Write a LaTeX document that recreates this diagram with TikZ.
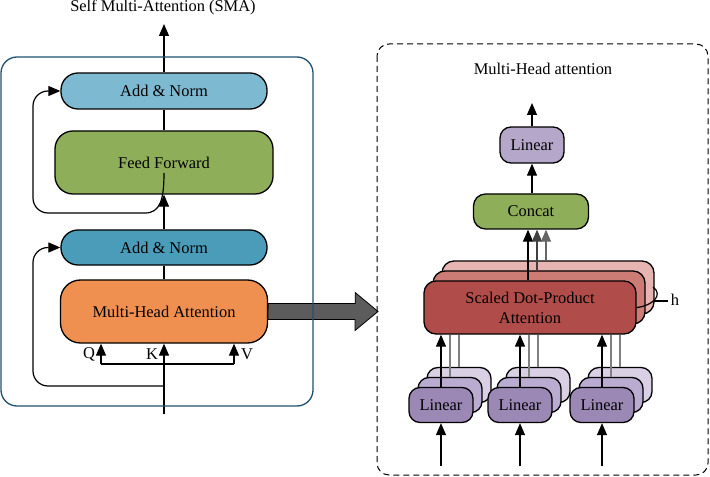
\documentclass[tikz,border=0pt]{standalone}
\usepackage{fontspec}
\setmainfont{Liberation Serif}
\usetikzlibrary{arrows.meta}

\definecolor{normtop}{RGB}{125,185,209}
\definecolor{normlow}{RGB}{74,156,184}
\definecolor{ffgreen}{RGB}{143,174,89}
\definecolor{mhaorange}{RGB}{240,144,80}
\definecolor{framebl}{RGB}{31,80,110}
\definecolor{lintop}{RGB}{181,167,202}
\definecolor{linfront}{RGB}{155,136,181}
\definecolor{linmid}{RGB}{186,171,208}
\definecolor{linback}{RGB}{217,208,228}
\definecolor{sdpfront}{RGB}{176,76,73}
\definecolor{sdpmid}{RGB}{204,123,117}
\definecolor{sdpback}{RGB}{230,181,177}
\definecolor{bigarr}{RGB}{92,92,92}

\begin{document}
\begin{tikzpicture}[x=1bp, y=-1bp, font=\fontsize{16.5}{20}\selectfont,
    box/.style={draw, line width=1.3bp, inner sep=0pt, align=center},
    conn/.style={line width=1.2bp},
    gline/.style={line width=1.2bp, draw=black!50},
    arr/.style={line width=1.2bp, -{Triangle[length=12bp,width=10bp]}}]
    \useasboundingbox (0,0) rectangle (710,477);

    % encoder block (left)
    \node[anchor=base] (sma) at (163,11.5) {Self Multi-Attention (SMA)};
    \node[box, fill=normtop, rounded corners=17bp, minimum width=206bp, minimum height=36bp] (an1) at (164,91) {Add \& Norm};
    \node[box, fill=ffgreen, rounded corners=18bp, minimum width=218bp, minimum height=63bp] (ff) at (164,162.5) {Feed Forward};
    \node[box, fill=normlow, rounded corners=17bp, minimum width=206bp, minimum height=35bp] (an2) at (164,247.5) {Add \& Norm};
    \node[box, fill=mhaorange, rounded corners=20bp, minimum width=207bp, minimum height=63bp] (mha) at (164,311.5) {Multi-Head Attention};

    \coordinate (out) at (164,24);
    \coordinate (in) at (164,414);
    \coordinate (q) at (101,364);
    \coordinate (v) at (234,364);
    \coordinate (res1) at (164,386);
    \coordinate (res2) at (164,173);

    \draw[arr] (an1.north) -- (out);
    \draw[conn] (ff.north) -- (an1.south);
    \draw[arr] (an2.north) -- (ff.south);
    \draw[conn] (mha.north) -- (an2.south);
    \draw[arr] (in) -- (mha.south);
    \draw[conn] (q) -- (v);
    \draw[arr] (q) -- (q |- mha.south);
    \draw[arr] (v) -- (v |- mha.south);
    \node (lq) at (89,354) {Q};
    \node (lk) at (152,354) {K};
    \node (lv) at (247,354) {V};
    \draw[arr, rounded corners=15bp] (res1) -- (33,386) -- (33,247.5) -- (an2.west);
    \draw[arr, rounded corners=15bp] (res2) .. controls (164,200) and (160,213) .. (130,213) -- (33,213) -- (33,91) -- (an1.west);

    % big arrow to the right part
    \draw[line width=0.8bp, fill=bigarr] (mha.east) ++(0,-8) -- ++(87,0) -- ++(0,-11) -- (378,311.5)
        -- (355,330.5) -- ++(0,-11) -- (268,319.5) -- cycle;

    % multi-head attention (right)
    \node[anchor=base] (mht) at (543,75) {Multi-Head attention};
    \node[box, fill=lintop, rounded corners=11bp, minimum width=64bp, minimum height=36bp] (lin) at (532,145) {Linear};
    \node[box, fill=ffgreen, rounded corners=12bp, minimum width=115bp, minimum height=35bp] (cat) at (531,211.5) {Concat};
    \coordinate (mhout) at (532,103);
    \draw[arr] (lin.north) -- (mhout);
    \draw[arr] (lin.south |- cat.north) -- (lin.south);

    \node[box, fill=sdpback, rounded corners=12bp, minimum width=212bp, minimum height=53bp] (sdp3) at (548,287.5) {};
    \node[box, fill=sdpmid, rounded corners=12bp, minimum width=212bp, minimum height=53bp] (sdp2) at (539,297.5) {};
    \node[box, fill=sdpfront, rounded corners=12bp, minimum width=212bp, minimum height=53bp] (sdp1) at (530,307.5) {Scaled Dot-Product\\Attention};

    \draw[arr] ([xshift=-2bp]sdp1.north) -- ([xshift=-2bp]sdp1.north |- cat.south);
    \draw[arr, black!75] ([xshift=-2bp]sdp2.north) -- ([xshift=-2bp]sdp2.north |- cat.south);
    \draw[arr, black!60] ([xshift=-2bp]sdp3.north) -- ([xshift=-2bp]sdp3.north |- cat.south);

    \draw[conn] (sdp1.east) .. controls (652,306) and (664,295) .. (653,287);
    \draw[conn] (654,301) -- (668,301);
    \node (h) at (675,300) {h};

    % linear stacks
    \node[box, fill=linback, rounded corners=11bp, minimum width=64bp, minimum height=35bp] (l1c) at (459,385) {};
    \node[box, fill=linmid, rounded corners=11bp, minimum width=64bp, minimum height=35bp] (l1b) at (450,395) {};
    \node[box, fill=linfront, rounded corners=11bp, minimum width=64bp, minimum height=35bp] (l1a) at (441,405) {Linear};
    \node[box, fill=linback, rounded corners=11bp, minimum width=64bp, minimum height=35bp] (l2c) at (538,385) {};
    \node[box, fill=linmid, rounded corners=11bp, minimum width=64bp, minimum height=35bp] (l2b) at (529,395) {};
    \node[box, fill=linfront, rounded corners=11bp, minimum width=64bp, minimum height=35bp] (l2a) at (520,405) {Linear};
    \node[box, fill=linback, rounded corners=11bp, minimum width=64bp, minimum height=35bp] (l3c) at (620,385) {};
    \node[box, fill=linmid, rounded corners=11bp, minimum width=64bp, minimum height=35bp] (l3b) at (611,395) {};
    \node[box, fill=linfront, rounded corners=11bp, minimum width=64bp, minimum height=35bp] (l3a) at (602,405) {Linear};

    \draw[gline] (l1c.north) -- (l1c.north |- sdp1.south);
    \draw[gline] (l1b.north) -- (l1b.north |- sdp1.south);
    \draw[arr] (l1a.north) -- (l1a.north |- sdp1.south);
    \draw[gline] (l2c.north) -- (l2c.north |- sdp1.south);
    \draw[gline] (l2b.north) -- (l2b.north |- sdp1.south);
    \draw[arr] (l2a.north) -- (l2a.north |- sdp1.south);
    \draw[gline] (l3c.north) -- (l3c.north |- sdp1.south);
    \draw[gline] (l3b.north) -- (l3b.north |- sdp1.south);
    \draw[arr] (l3a.north) -- (l3a.north |- sdp1.south);

    \coordinate (in1) at (441,466);
    \coordinate (in2) at (520,466);
    \coordinate (in3) at (602,466);
    \draw[arr] (in1) -- (l1a.south);
    \draw[arr] (in2) -- (l2a.south);
    \draw[arr] (in3) -- (l3a.south);

    % frames
    \draw[framebl, line width=1.3bp, rounded corners=16bp] (1,57) rectangle (313,406);
    \draw[line width=1bp, dash pattern=on 6bp off 4bp, rounded corners=12bp] (377,44) rectangle (708,475);
\end{tikzpicture}
\end{document}
